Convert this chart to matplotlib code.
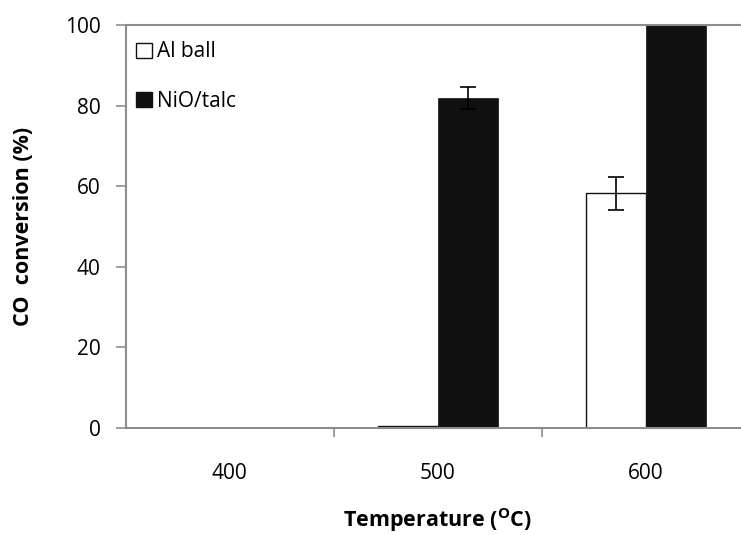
import numpy as np
import matplotlib
matplotlib.use("Agg")
import matplotlib.pyplot as plt
from matplotlib.patches import Patch

plt.rcParams['font.family'] = ['Open Sans', 'DejaVu Sans']
plt.rcParams['mathtext.fontset'] = 'custom'
plt.rcParams['mathtext.rm'] = 'Open Sans'
plt.rcParams['mathtext.bf'] = 'Open Sans:bold'

# data
temperatures = ['400', '500', '600']
al_ball = [0.0, 0.4, 58.3]
al_ball_err = [0.0, 0.0, 4.1]
nio_talc = [0.0, 81.8, 103.0]
nio_talc_err = [0.0, 2.7, 0.0]

grey = '#8c8c8c'
dark = '#111111'
x = np.arange(len(temperatures))
w = 0.288

fig = plt.figure(figsize=(7.41, 5.35), dpi=100)
ax = fig.add_axes([125.7 / 741, 107 / 535, 624 / 741, 403 / 535])

al_lw = [1.0 if v > 0 else 0 for v in al_ball]
nio_lw = [0.5 if v > 0 else 0 for v in nio_talc]
ax.bar(x - w / 2, al_ball, w, color='white', edgecolor=dark, linewidth=al_lw, zorder=2)
ax.bar(x + w / 2, nio_talc, w, color=dark, edgecolor=dark, linewidth=nio_lw, zorder=2)

for xs, vals, errs in [(x - w / 2, al_ball, al_ball_err), (x + w / 2, nio_talc, nio_talc_err)]:
    idx = [i for i, e in enumerate(errs) if e > 0]
    ax.errorbar(xs[idx], np.array(vals)[idx], yerr=np.array(errs)[idx], fmt='none',
                ecolor='black', elinewidth=1.2, capsize=6, capthick=1.2, zorder=3)

ax.set_xlim(-0.5, 2.5)
ax.set_ylim(0, 100)
ax.set_yticks([0, 20, 40, 60, 80, 100])

ax.set_xticks(x)
ax.set_xticklabels(temperatures, fontsize=15)
ax.tick_params(axis='x', which='major', length=0, pad=25)
ax.set_xticks([0.5, 1.5], minor=True)
ax.tick_params(axis='x', which='minor', length=6.5, color=grey, width=1.2)
ax.tick_params(axis='y', length=7, color=grey, width=1.2, labelsize=15, pad=11)

for side in ['left', 'bottom', 'top']:
    ax.spines[side].set_color(grey)
    ax.spines[side].set_linewidth(1.5)
ax.spines['right'].set_visible(False)

ax.set_ylabel('CO  conversion (%)', fontsize=15.5, fontweight='bold', labelpad=22)
ax.set_xlabel(r'Temperature ($\mathbf{^{O}}$C)', fontsize=15.5, fontweight='bold', labelpad=16)

handles = [Patch(facecolor='white', edgecolor=dark, linewidth=1.0, label='Al ball'),
           Patch(facecolor=dark, edgecolor=dark, label='NiO/talc')]
ax.legend(handles=handles, loc='upper left', frameon=False, fontsize=15, handlelength=0.75,
          handleheight=0.75, handletextpad=0.25, labelspacing=1.35,
          borderaxespad=0.1, bbox_to_anchor=(0.0, 0.985))

fig.savefig('out.png', dpi=100)
